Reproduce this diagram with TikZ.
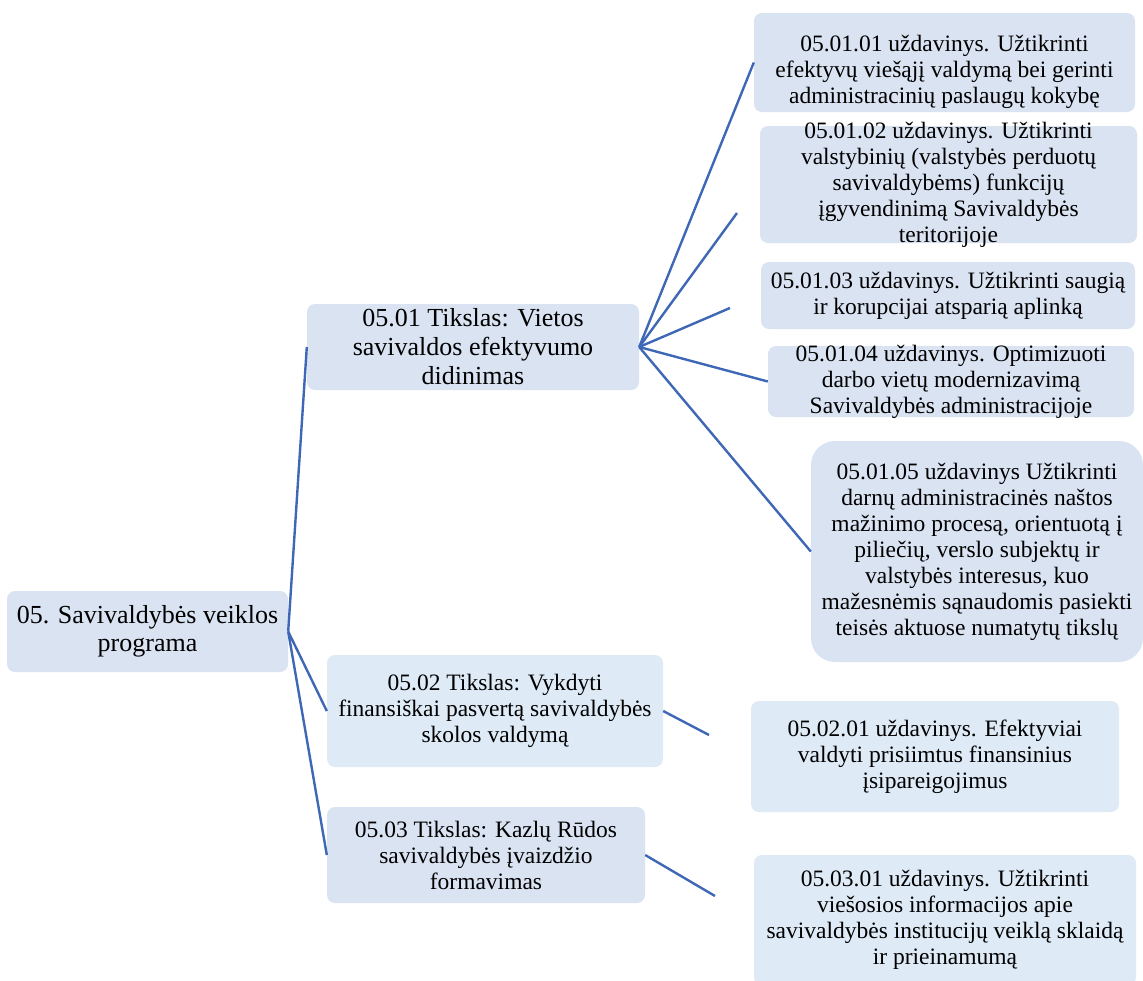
\documentclass[tikz,border=0pt]{standalone}
\usepackage{fontspec}
\setmainfont{Liberation Serif}
\usepackage{tikz}
\usetikzlibrary{calc}
\definecolor{boxfill}{RGB}{218,227,242}
\definecolor{boxfillb}{RGB}{222,234,246}
\definecolor{linkblue}{RGB}{62,104,181}

\begin{document}
\begin{tikzpicture}[x=1pt,y=-1pt,
            box/.style={rectangle, rounded corners=8pt, fill=boxfill, inner sep=0pt,
            align=center, font=\fontsize{23.5}{26}\selectfont},
            goal/.style={box, font=\fontsize{26}{29}\selectfont},
            link/.style={draw=linkblue, line width=2.4pt}]
        \useasboundingbox (0,0) rectangle (1143,980);

          \node[goal, font=\fontsize{26}{28}\selectfont, minimum width=281pt, minimum height=81pt] (R) at (147.5,631.5) {05. Savivaldybės veiklos\\programa};

          \node[goal, minimum width=332pt, minimum height=86pt, inner ysep=-4pt] (G1) at (473,347) {05.01 Tikslas: Vietos\\savivaldos efektyvumo\\didinimas};
          \node[box, fill=boxfillb, minimum width=336pt, minimum height=112pt] (G2) at (495,711) {05.02 Tikslas: Vykdyti\\finansiškai pasvertą savivaldybės\\skolos valdymą};
          \node[box, minimum width=318pt, minimum height=96pt] (G3) at (486,855) {05.03 Tikslas: Kazlų Rūdos\\savivaldybės įvaizdžio\\formavimas};

          \node[box, minimum width=381pt, minimum height=99pt] (T11) at (944.5,62.5) {\rule{0pt}{36pt}05.01.01 uždavinys. Užtikrinti\\efektyvų viešąjį valdymą bei gerinti\\administracinių paslaugų kokybę};
          \node[box, minimum width=377pt, minimum height=117pt, inner ysep=-8pt] (T12) at (948.5,184.5) {05.01.02 uždavinys. Užtikrinti\\valstybinių (valstybės perduotų\\savivaldybėms) funkcijų\\įgyvendinimą Savivaldybės\\teritorijoje};
          \node[box, minimum width=374pt, minimum height=67pt] (T13) at (948,295.5) {05.01.03 uždavinys. Užtikrinti saugią\\ir korupcijai atsparią aplinką};
          \node[box, minimum width=366pt, minimum height=71pt, inner ysep=-6pt] (T14) at (951,381.5) {05.01.04 uždavinys. Optimizuoti\\darbo vietų modernizavimą\\Savivaldybės administracijoje};
          \node[box, rounded corners=24pt, minimum width=332pt, minimum height=221pt] (T15) at (977,551.5) {05.01.05 uždavinys Užtikrinti\\darnų administracinės naštos\\mažinimo procesą, orientuotą į\\piliečių, verslo subjektų ir\\valstybės interesus, kuo\\mažesnėmis sąnaudomis pasiekti\\teisės aktuose numatytų tikslų};

          \node[box, fill=boxfillb, minimum width=368pt, minimum height=111pt] (T21) at (935,756.5) {05.02.01 uždavinys. Efektyviai\\valdyti prisiimtus finansinius\\įsipareigojimus};
          \node[box, fill=boxfillb, minimum width=382pt, minimum height=130pt] (T31) at (945,920) {05.03.01 uždavinys. Užtikrinti\\viešosios informacijos apie\\savivaldybės institucijų veiklą sklaidą\\ir prieinamumą};

          \coordinate (c12) at (737,213);
          \coordinate (c13) at (730,308);
          \coordinate (c21) at (709,735);
          \coordinate (c31) at (715,896);

          \draw[link] (R.east) -- (G1.west);
          \draw[link] (R.east) -- (G2.west);
          \draw[link] (R.east) -- (G3.west);
          \draw[link] (G1.east) -- (T11.west);
          \draw[link] (G1.east) -- (c12);
          \draw[link] (G1.east) -- (c13);
          \draw[link] (G1.east) -- (T14.west);
          \draw[link] (G1.east) -- (T15.west);
          \draw[link] (G2.east) -- (c21);
          \draw[link] (G3.east) -- (c31);
        \end{tikzpicture}
\end{document}
